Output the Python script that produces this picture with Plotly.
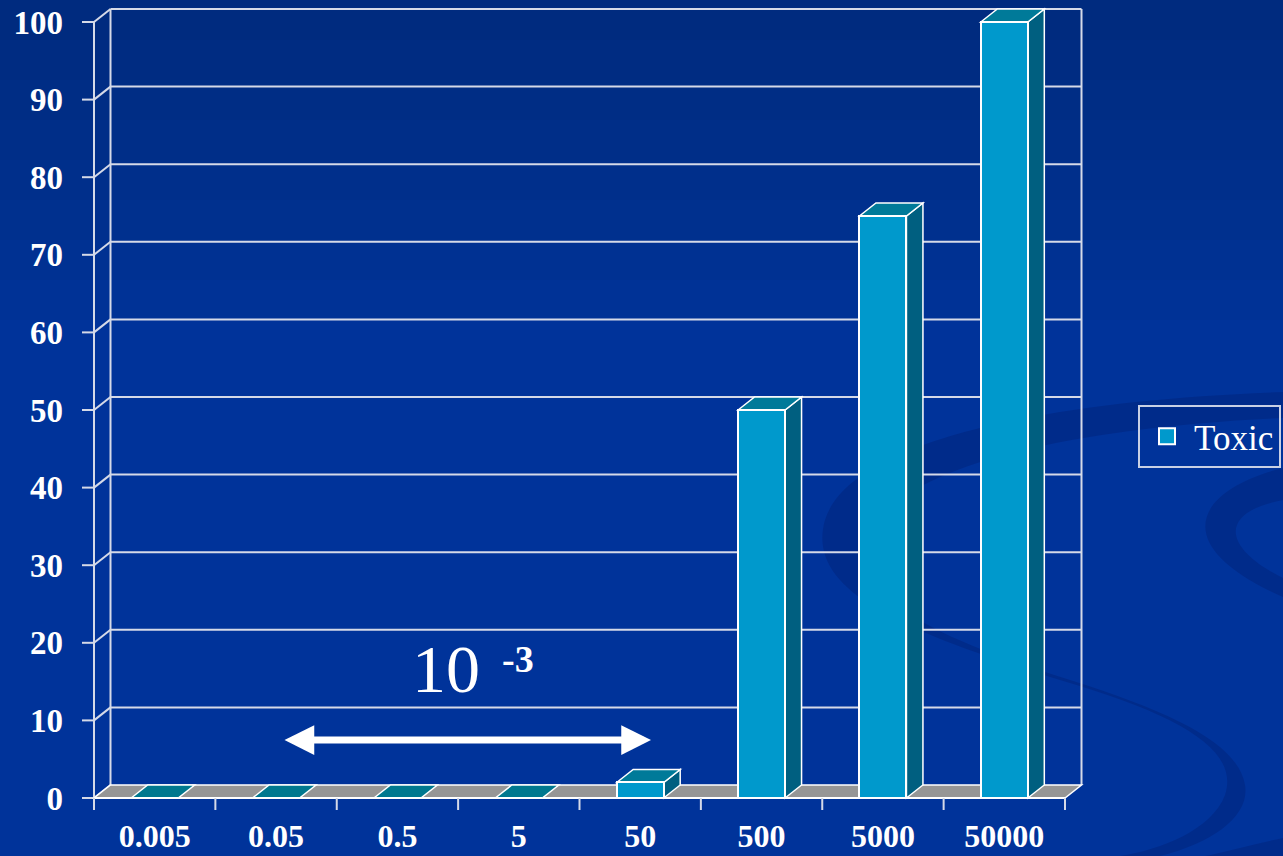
import plotly.graph_objects as go

# ---------------- data ----------------
categories = ["0.005", "0.05", "0.5", "5", "50", "500", "5000", "50000"]
toxic = [0, 0, 0, 0, 2, 50, 75, 100]
y_ticks = [0, 10, 20, 30, 40, 50, 60, 70, 80, 90, 100]
series_name = "Toxic"
note_base = "10"
note_exp = "-3"

# ---------------- layout constants (pixels) ----------------
W, H = 1283, 856
X0P, XNP = 94, 1065        # front x-axis start / end
Y0P, YTOPP = 798, 22       # pixel of y=0 and y=100 on front plane
L, R, T, B = 78, 1086, 4, 814   # plot area
n = len(categories)
PXU = (XNP - X0P) / n
PYU = (Y0P - YTOPP) / 100.0
DX = 16.5 / PXU            # depth offset in data units
DY = 13.0 / PYU
BAR_W = 47.0 / PXU

BG = "#00339A"
FRONT = "#0099CC"
SIDE = "#005F80"
TOP = "#007A99"
FLOOR = "#969696"
GRID = "#D5DAE8"
SERIF = "Liberation Serif, Times New Roman, serif"

def px2paper(xp, yp):
    return (xp - L) / (R - L), (B - yp) / (B - T)

def ppath(cmds):
    out = []
    for c in cmds:
        if isinstance(c, str):
            out.append(c)
        else:
            x, y = px2paper(*c)
            out.append(f"{x:.5f},{y:.5f}")
    return " ".join(out)

shapes = []

# background darkening towards top
for k in range(1, 9):
    x0, y0 = px2paper(0, 0)
    x1, y1 = px2paper(W, 40 * k)
    shapes.append(dict(type="rect", xref="paper", yref="paper", x0=x0, y0=y1, x1=x1, y1=y0,
                       fillcolor="rgba(0,15,70,0.035)", line=dict(width=0), layer="below"))

# decorative swoosh
swoosh1 = ppath(["M", (1283, 392), "C", (1050, 400), (850, 440), (825, 520),
                 "C", (805, 590), (900, 630), (1060, 680),
                 "C", (1180, 715), (1240, 750), (1225, 795),
                 "C", (1212, 830), (1160, 850), (1120, 856),
                 "L", (1160, 856), "C", (1215, 842), (1250, 815), (1245, 785),
                 "C", (1238, 745), (1180, 715), (1070, 680),
                 "C", (930, 636), (860, 600), (868, 545),
                 "C", (880, 470), (1060, 428), (1283, 418), "Z"])
swoosh2 = ppath(["M", (1283, 468), "C", (1195, 490), (1165, 545), (1283, 597),
                 "L", (1283, 578), "C", (1222, 548), (1218, 512), (1283, 500), "Z"])
swoosh3 = ppath(["M", (1283, 838), "C", (1250, 845), (1225, 852), (1205, 856),
                 "L", (1283, 856), "Z"])
for p in (swoosh1, swoosh2, swoosh3):
    shapes.append(dict(type="path", xref="paper", yref="paper", path=p,
                       fillcolor="rgba(0,20,90,0.25)", line=dict(width=0), layer="below"))

def seg(x0, y0, x1, y1, color=GRID, width=2):
    shapes.append(dict(type="line", xref="x", yref="y", x0=x0, y0=y0, x1=x1, y1=y1,
                       line=dict(color=color, width=width), layer="below"))

def poly(pts, fill, lw=1.5, lc="white"):
    d = "M " + " L ".join(f"{x},{y}" for x, y in pts) + " Z"
    shapes.append(dict(type="path", xref="x", yref="y", path=d, fillcolor=fill,
                       line=dict(color=lc, width=lw), layer="below"))

ymax = y_ticks[-1]
# back wall gridlines and left wall diagonals
for v in y_ticks:
    if v > 0:
        seg(DX, v + DY, n + DX, v + DY)
    seg(0, v, DX, v + DY)
    # left tick marks
    seg(-12 / PXU, v, 0, v)
# wall edges
seg(0, 0, 0, ymax)
seg(DX, DY, DX, ymax + DY)
seg(n + DX, DY, n + DX, ymax + DY)

# floor
poly([(0, 0), (n, 0), (n + DX, DY), (DX, DY)], FLOOR, lw=1.5)
seg(0, 0, n, 0, color="white", width=2)
# bottom tick marks at category boundaries
for i in range(n + 1):
    seg(i, 0, i, -12 / PYU, color=GRID, width=2)

# 3D faces of bars
for i, v in enumerate(toxic):
    xl = i + 0.5 - BAR_W / 2
    xr = i + 0.5 + BAR_W / 2
    if v > 0:
        poly([(xr, 0), (xr + DX, DY), (xr + DX, v + DY), (xr, v)], SIDE)
    poly([(xl, v), (xl + DX, v + DY), (xr + DX, v + DY), (xr, v)], TOP if v > 0 else "#00788F")

fig = go.Figure()
fig.add_trace(go.Bar(
    x=[i + 0.5 for i in range(n)], y=toxic, width=BAR_W, name=series_name,
    marker=dict(color=FRONT, line=dict(color="white", width=2)),
    showlegend=False, hovertemplate="%{text}: %{y}<extra></extra>", text=categories,
    textposition="none"))
fig.add_trace(go.Scatter(
    x=[None], y=[None], mode="markers", name=series_name,
    marker=dict(symbol="square", size=16, color=FRONT, line=dict(color="white", width=2))))

lx, ly = px2paper(1138, 405)
annotations = [
    dict(x=(446 - X0P) / PXU, y=(Y0P - 669) / PYU, xref="x", yref="y", text=note_base,
         showarrow=False, font=dict(family=SERIF, size=68, color="white")),
    dict(x=(518 - X0P) / PXU, y=(Y0P - 659) / PYU, xref="x", yref="y", text=note_exp,
         showarrow=False, font=dict(family=SERIF, size=38, color="white", weight="bold")),
    dict(x=(651 - X0P) / PXU, y=(Y0P - 740) / PYU, ax=(283 - X0P) / PXU, ay=(Y0P - 740) / PYU,
         xref="x", yref="y", axref="x", ayref="y", text="", showarrow=True,
         arrowhead=2, startarrowhead=2, arrowside="end+start", arrowwidth=7,
         arrowsize=0.85, startarrowsize=0.85, arrowcolor="white", standoff=0, startstandoff=0),
]

fig.update_layout(
    width=W, height=H,
    margin=dict(l=L, r=W - R, t=T, b=H - B, pad=0, autoexpand=False),
    paper_bgcolor=BG, plot_bgcolor="rgba(0,0,0,0)",
    shapes=shapes, annotations=annotations,
    bargap=0,
    showlegend=True,
    legend=dict(x=lx, y=ly, xanchor="left", yanchor="top",
                font=dict(family=SERIF, size=35, color="white"),
                bgcolor="rgba(0,0,0,0)", bordercolor="#C8D0E4", borderwidth=2,
                itemwidth=44),
    xaxis=dict(range=[(L - X0P) / PXU, (R - X0P) / PXU], tickvals=[i + 0.5 for i in range(n)],
               ticktext=categories, showgrid=False, zeroline=False, showline=False, ticks="",
               tickfont=dict(family=SERIF, size=32, color="white", weight="bold"),
               ticklabelstandoff=0, fixedrange=True, automargin=False),
    yaxis=dict(range=[-(B - Y0P) / PYU, (Y0P - T) / PYU], tickvals=y_ticks,
               showgrid=False, zeroline=False, showline=False, ticks="",
               tickfont=dict(family=SERIF, size=33, color="white", weight="bold"),
               ticklabelstandoff=14, fixedrange=True, automargin=False),
)

fig.write_html("out.html")
